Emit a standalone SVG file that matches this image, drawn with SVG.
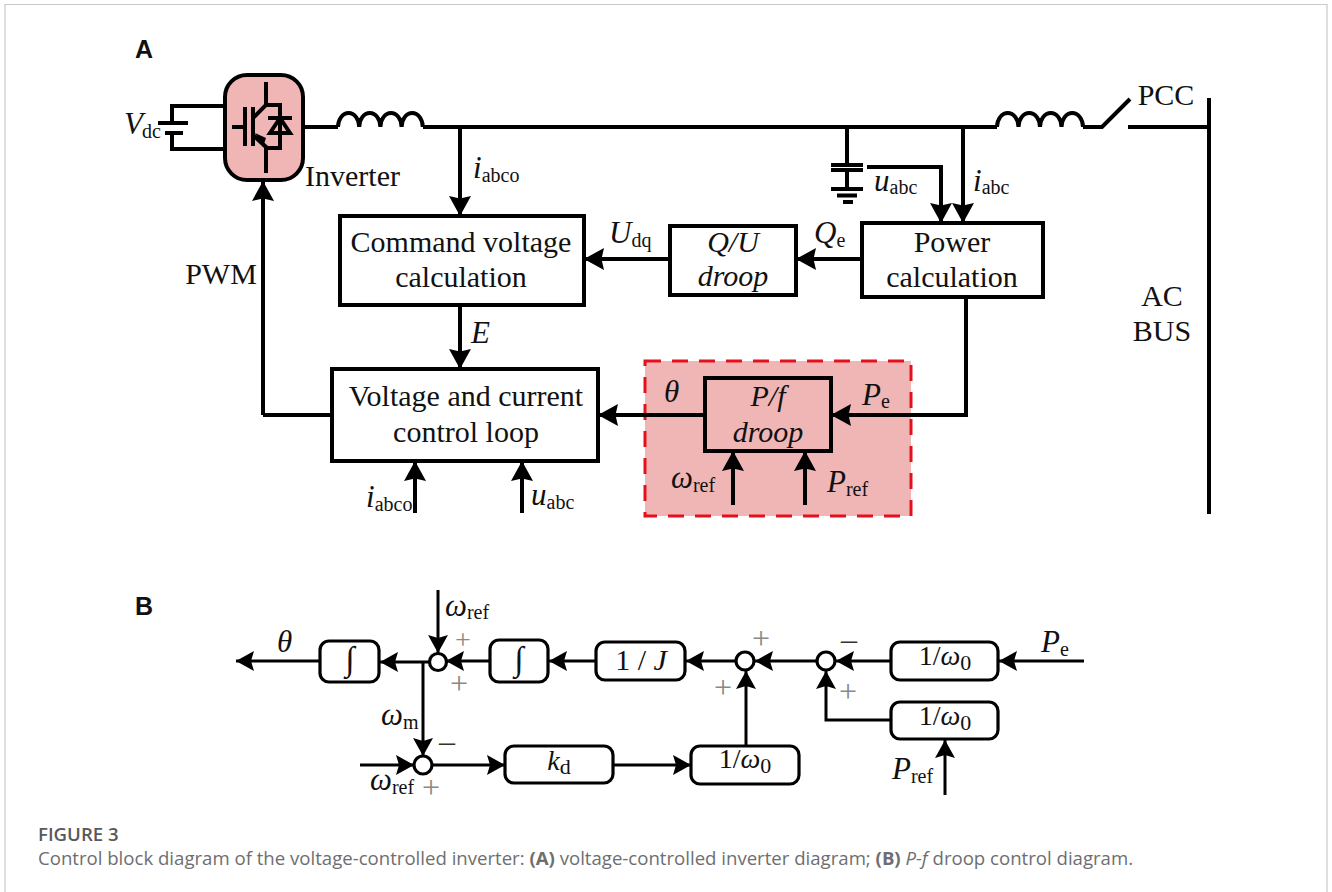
<svg xmlns="http://www.w3.org/2000/svg" width="1332" height="892" viewBox="0 0 1332 892">
<style>
text{font-family:"Liberation Serif","Times New Roman",serif;fill:#111}
.t{font-size:30px;text-anchor:middle}
.v{font-size:31px;font-style:italic}
.s{font-size:20px;font-style:normal}
.u{font-size:28px;text-anchor:middle}
.us{font-size:22px}
.p{font-size:32px;fill:#888;text-anchor:middle}
.m{font-size:32px;fill:#333;text-anchor:middle}
.h{font-family:"Liberation Sans",Arial,sans-serif;font-size:25px;font-weight:bold}
.c{font-family:"Open Sans","Noto Sans",sans-serif;fill:#6d6e71;font-size:18.600px}
.w{fill:none;stroke:#000;stroke-width:4;stroke-linejoin:miter}
.a{fill:none;stroke:#000;stroke-width:4;marker-end:url(#big)}
.b{fill:none;stroke:#000;stroke-width:3;marker-end:url(#small)}
.box{fill:#fff;stroke:#000;stroke-width:4}
.rb{fill:#fff;stroke:#000;stroke-width:3.200}
.sum{fill:#fff;stroke:#000;stroke-width:3.200}
</style>
<defs>
<marker id="big" markerUnits="userSpaceOnUse" markerWidth="24" markerHeight="24" refX="20" refY="11.500" orient="auto"><path d="M0 0.500L20 11.500L0 22.500L2.500 11.500Z" fill="#000"/></marker>
<marker id="small" markerUnits="userSpaceOnUse" markerWidth="22" markerHeight="22" refX="18" refY="10.500" orient="auto"><path d="M0 0.500L18 10.500L0 20.500L3 10.500Z" fill="#000"/></marker>
</defs>
<rect width="1332" height="892" fill="#fff"/>
<path d="M5 892V4.500H1327V892" fill="none" stroke="#c9c9c9" stroke-width="1.200"/>

<g id="panel-labels">
<text class="h" x="135" y="58">A</text>
<text class="h" x="135" y="615">B</text>
</g>

<g id="connectors-a">
<path class="w" d="M303 127H338M423 127H997M1083 127H1102L1130 99M1128 127H1209M1209 98V514"/>
<path class="w" d="M338 127a10.600 14 0 0 1 21.200 0a10.600 14 0 0 1 21.200 0a10.600 14 0 0 1 21.200 0a10.600 14 0 0 1 21.200 0"/>
<path class="w" d="M997 127a10.750 14 0 0 1 21.500 0a10.750 14 0 0 1 21.500 0a10.750 14 0 0 1 21.500 0a10.750 14 0 0 1 21.500 0"/>
<path class="w" d="M225 106H172V123M225 149H172V133M158 123H188M165 133H183"/>
<path class="w" d="M847 127V165M831 165H863M831 170H863M847 170V189M831 189H863"/>
<path class="w" d="M837 195.500H857M843 202H853"/>
<path class="a" d="M263 415V181"/>
<path class="w" d="M263 415H332"/>
<path class="a" d="M460 127V216"/>
<path class="a" d="M867 167H941V223"/>
<path class="a" d="M963 127V223"/>
<path class="a" d="M862 259H796"/>
<path class="a" d="M670 259H584"/>
<path class="a" d="M460 305V369"/>
<path class="a" d="M415 513V461"/>
<path class="a" d="M522 513V461"/>
</g>

<g id="droop-highlight">
<rect x="645" y="361" width="266" height="155" fill="#f0b5b5" stroke="#e5101d" stroke-width="3" stroke-dasharray="16 11"/>
</g>
<g id="connectors-a2">
<path class="a" d="M966 297V415H831"/>
<path class="a" d="M705 415H598"/>
<path class="a" d="M733 505V451"/>
<path class="a" d="M805 505V451"/>
</g>

<g id="inverter">
<rect x="225" y="75" width="78" height="105" rx="22" fill="#f0b5b5" stroke="#000" stroke-width="4"/>
<path class="w" d="M266 82V105L253 118M253 135L266 147V173M232 127H245M245 107V146M253 107V146M266 105H280V148H266M268 118H292"/>
<path class="w" stroke-width="3" d="M280 118L270 133H290Z"/>
<path d="M255 133L266 138L263 147Z" fill="#000"/>
<text class="v" x="124" y="134">V<tspan class="s" dx="-1" dy="4">dc</tspan></text>
<text class="t" x="352.500" y="186">Inverter</text>
</g>

<g id="command-voltage">
<rect class="box" x="340" y="216" width="244" height="89"/>
<text class="t" x="461" y="252">Command voltage</text>
<text class="t" x="461" y="287">calculation</text>
</g>
<g id="qu-droop">
<rect class="box" x="670" y="226" width="126" height="69"/>
<text class="t" x="733" y="252" font-style="italic">Q/U</text>
<text class="t" x="733" y="286" font-style="italic">droop</text>
</g>
<g id="power-calculation">
<rect class="box" x="862" y="223" width="181" height="74"/>
<text class="t" x="952" y="252">Power</text>
<text class="t" x="952" y="287">calculation</text>
</g>
<g id="voltage-current-loop">
<rect class="box" x="332" y="369" width="266" height="92"/>
<text class="t" x="466" y="406">Voltage and current</text>
<text class="t" x="466" y="442">control loop</text>
</g>
<g id="pf-droop">
<rect fill="none" stroke="#000" stroke-width="4" x="705" y="378" width="126" height="73"/>
<text class="t" x="768" y="406" font-style="italic">P/f</text>
<text class="t" x="768" y="442" font-style="italic">droop</text>
</g>

<g id="labels-a">
<text class="t" x="1166" y="105">PCC</text>
<text class="t" x="1162" y="306">AC</text>
<text class="t" x="1162" y="341">BUS</text>
<text class="t" x="221" y="284">PWM</text>
<text class="v" x="473" y="178">i<tspan class="s" dy="4">abco</tspan></text>
<text class="v" x="874" y="191">u<tspan class="s" dy="3">abc</tspan></text>
<text class="v" x="973" y="191">i<tspan class="s" dy="3">abc</tspan></text>
<text class="v" x="814" y="243">Q<tspan class="s" dy="4">e</tspan></text>
<text class="v" x="609" y="243">U<tspan class="s" dy="4">dq</tspan></text>
<text class="v" x="471" y="343">E</text>
<text class="v" x="664" y="402">θ</text>
<text class="v" x="862" y="405">P<tspan class="s" dy="3">e</tspan></text>
<text class="v" x="671" y="488">ω<tspan class="s" dy="4">ref</tspan></text>
<text class="v" x="827" y="492">P<tspan class="s" dy="4">ref</tspan></text>
<text class="v" x="366" y="507">i<tspan class="s" dy="4">abco</tspan></text>
<text class="v" x="531" y="505">u<tspan class="s" dy="4">abc</tspan></text>
</g>

<g id="connectors-b">
<path class="b" d="M320 661H236"/>
<path class="b" d="M430 662H380"/>
<path class="b" d="M490 661H446"/>
<path class="b" d="M596 661H549"/>
<path class="b" d="M736 661H686"/>
<path class="b" d="M817 661H755"/>
<path class="b" d="M891 661H836"/>
<path class="b" d="M1084 661H999"/>
<path class="b" d="M891 720H826V671"/>
<path class="b" d="M945 795V740"/>
<path class="b" d="M746 746V671"/>
<path class="b" d="M613 765H691"/>
<path class="b" d="M432 765H505"/>
<path class="b" d="M360 765H414"/>
<path class="b" d="M438 590V653"/>
<path class="b" d="M423 662V756"/>
</g>

<g id="integrator-theta">
<rect class="rb" x="320" y="641" width="59" height="41" rx="9"/>
<text class="u" x="350" y="670" style="font-size:34px">∫</text>
</g>
<g id="sum-1"><circle class="sum" cx="438" cy="662" r="8.500"/></g>
<g id="integrator-omega">
<rect class="rb" x="490" y="640" width="58" height="42" rx="9"/>
<text class="u" x="519" y="670" style="font-size:34px">∫</text>
</g>
<g id="gain-1-j">
<rect class="rb" x="596" y="642" width="89" height="38" rx="9"/>
<text class="u" x="641" y="670" style="font-size:30px">1 / <tspan font-style="italic">J</tspan></text>
</g>
<g id="sum-2"><circle class="sum" cx="745" cy="661" r="9"/></g>
<g id="sum-3"><circle class="sum" cx="826" cy="661" r="9"/></g>
<g id="gain-pe">
<rect class="rb" x="891" y="642" width="107" height="38" rx="9"/>
<text class="u" x="945" y="665">1/<tspan font-style="italic">ω</tspan><tspan class="us" dy="5">0</tspan></text>
</g>
<g id="gain-pref">
<rect class="rb" x="891" y="702" width="107" height="37" rx="9"/>
<text class="u" x="945" y="725">1/<tspan font-style="italic">ω</tspan><tspan class="us" dy="5">0</tspan></text>
</g>
<g id="gain-kd">
<rect class="rb" x="505" y="746" width="108" height="37" rx="9"/>
<text class="u" x="559" y="770"><tspan font-style="italic">k</tspan><tspan class="us" dy="4">d</tspan></text>
</g>
<g id="gain-omega">
<rect class="rb" x="691" y="746" width="108" height="38" rx="9"/>
<text class="u" x="745" y="768">1/<tspan font-style="italic">ω</tspan><tspan class="us" dy="5">0</tspan></text>
</g>
<g id="sum-4"><circle class="sum" cx="423" cy="765" r="9"/></g>

<g id="labels-b">
<text class="v" x="277" y="652">θ</text>
<text class="v" x="445" y="616">ω<tspan class="s" dy="3">ref</tspan></text>
<text class="v" x="381" y="725">ω<tspan class="s" dy="4">m</tspan></text>
<text class="v" x="370" y="790">ω<tspan class="s" dy="4">ref</tspan></text>
<text class="v" x="1041" y="652">P<tspan class="s" dy="4">e</tspan></text>
<text class="v" x="892" y="779">P<tspan class="s" dy="4">ref</tspan></text>
<text class="p" x="463" y="649" style="font-size:28px">+</text>
<text class="p" x="459" y="694">+</text>
<text class="p" x="761" y="649">+</text>
<text class="p" x="723" y="698">+</text>
<text class="p" x="848" y="702">+</text>
<text class="p" x="431" y="798">+</text>
<text class="m" x="849" y="650">–</text>
<text class="m" x="447" y="752">–</text>
</g>

<g id="caption">
<text class="c" x="38" y="841" style="font-weight:600;fill:#58595b">FIGURE 3</text>
<text class="c" x="38" y="865">Control block diagram of the voltage-controlled inverter: <tspan font-weight="bold">(A)</tspan> voltage-controlled inverter diagram; <tspan font-weight="bold">(B)</tspan> <tspan font-style="italic">P-f</tspan> droop control diagram.</text>
</g>
</svg>
